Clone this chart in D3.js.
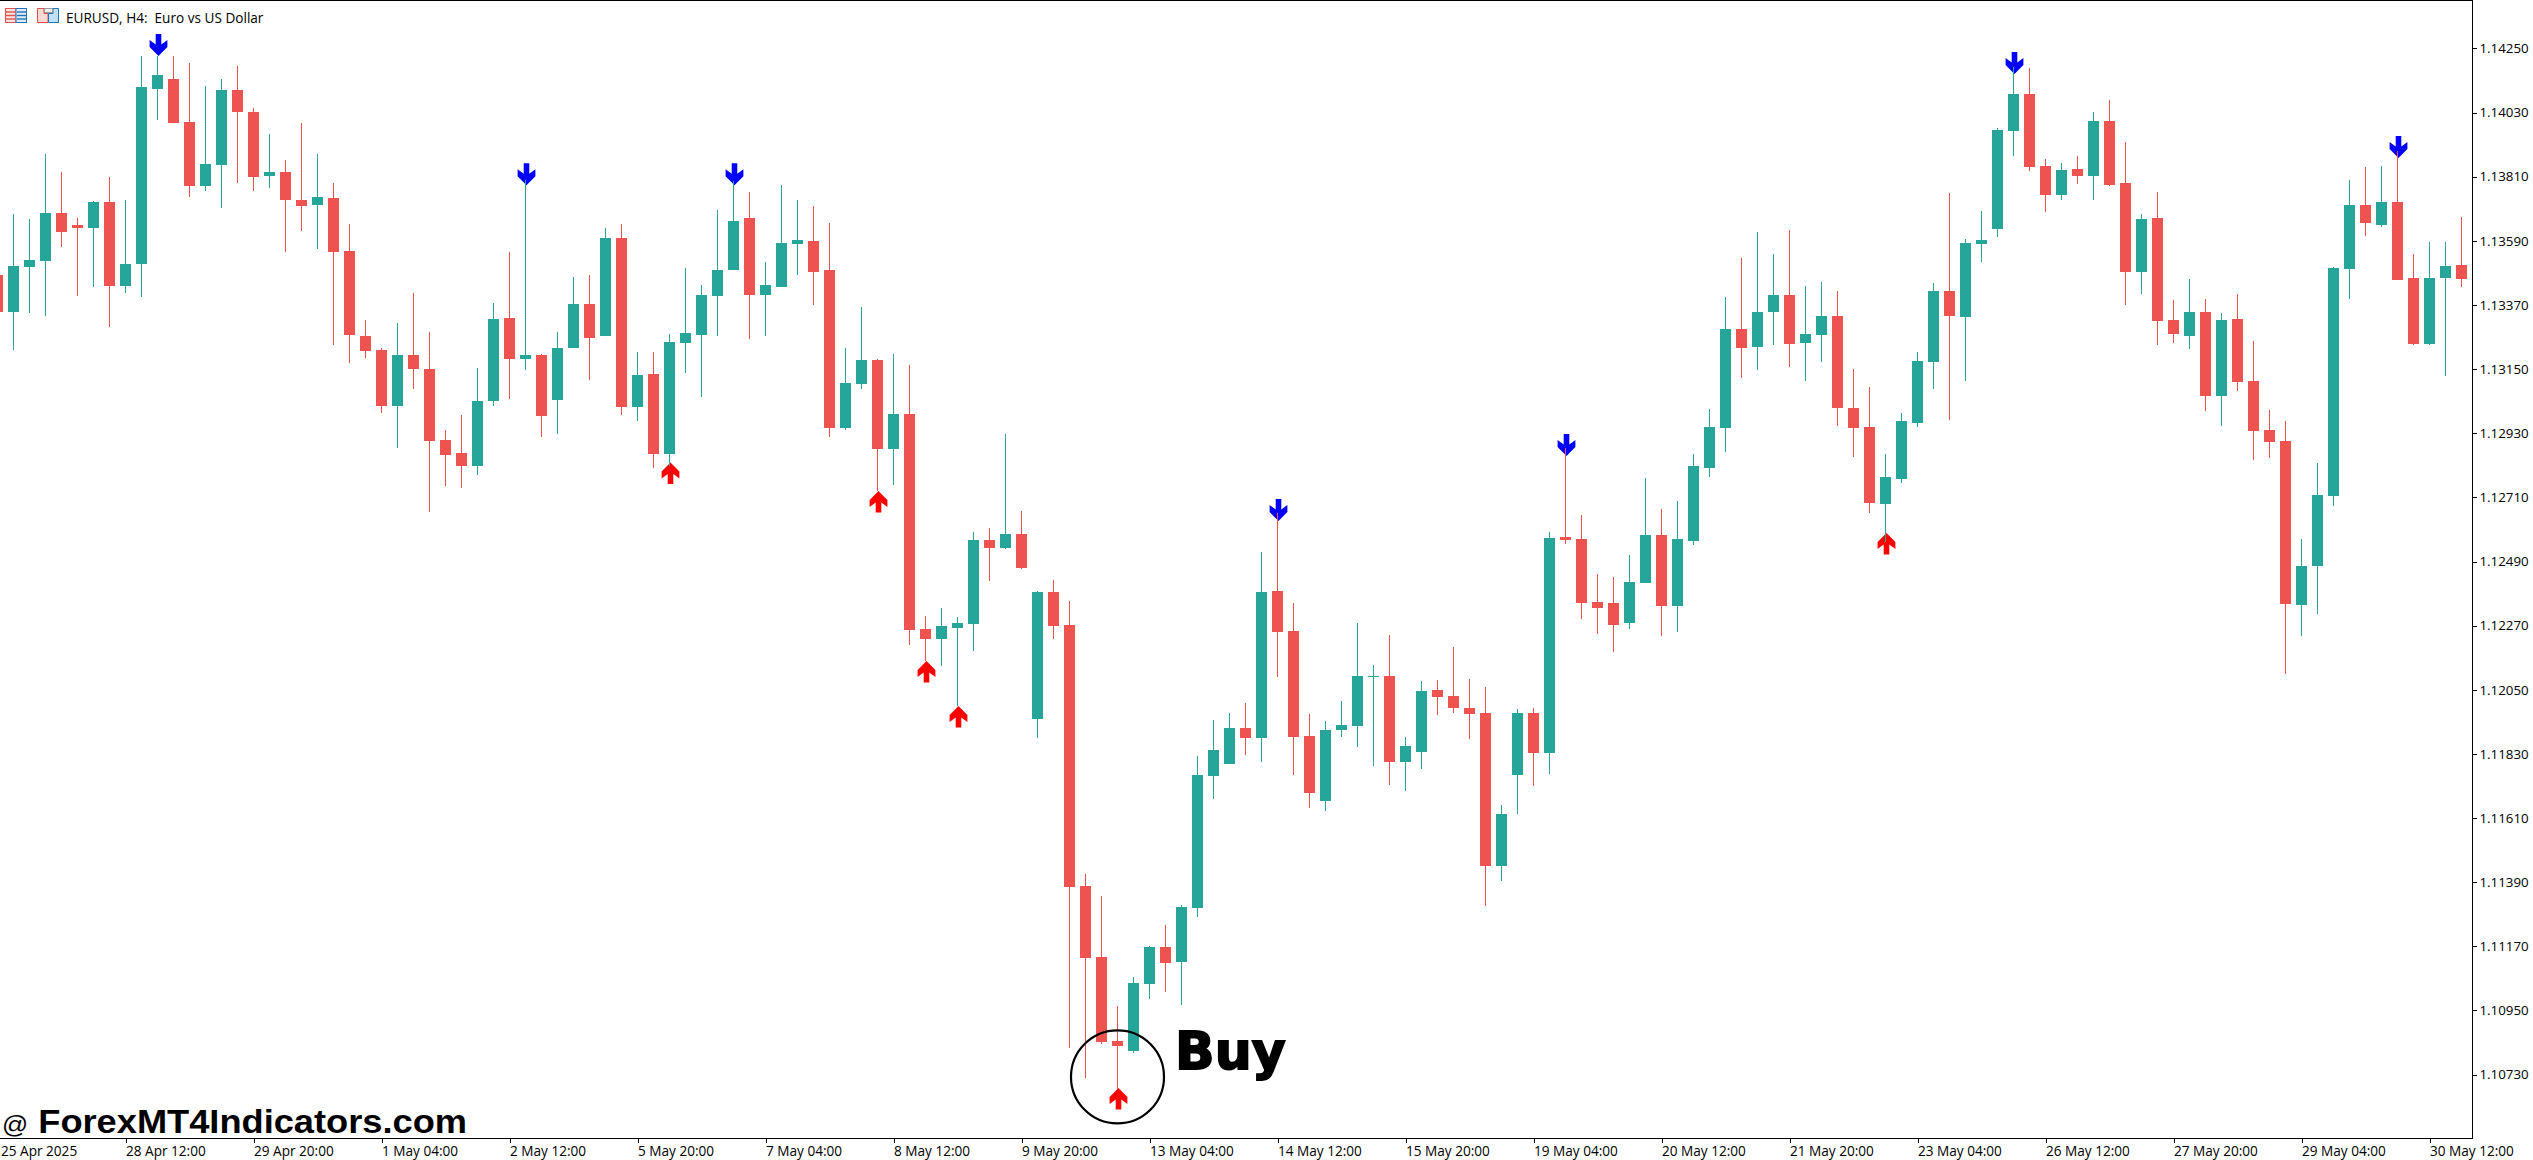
<!DOCTYPE html>
<html><head><meta charset="utf-8">
<style>html,body{margin:0;padding:0;background:#fff;overflow:hidden}svg{display:block}</style>
<script src="https://cdn.jsdelivr.net/npm/d3@7/dist/d3.min.js"></script>
</head><body><svg id="c" width="2533" height="1160"></svg>
<script>
const opens=[1.13473,1.13346,1.13500,1.13521,1.13685,1.13644,1.13634,1.13723,1.13435,1.13510,1.14111,1.14145,1.13997,1.13778,1.13850,1.14107,1.14032,1.13812,1.13826,1.13730,1.13713,1.13737,1.13555,1.13264,1.13215,1.13023,1.13198,1.13150,1.12907,1.12862,1.12818,1.13041,1.13325,1.13185,1.13198,1.13044,1.13222,1.13373,1.13264,1.13600,1.13020,1.13133,1.12859,1.13239,1.13267,1.13401,1.13490,1.13668,1.13404,1.13432,1.13579,1.13589,1.13490,1.12948,1.13099,1.13181,1.12876,1.12996,1.12259,1.12224,1.12262,1.12276,1.12564,1.12536,1.12584,1.11950,1.12385,1.12272,1.11377,1.11133,1.10845,1.10811,1.11041,1.11168,1.11116,1.11302,1.11754,1.11795,1.11919,1.11885,1.12389,1.12252,1.11891,1.11669,1.11912,1.11926,1.12094,1.12097,1.11802,1.11837,1.12049,1.12029,1.11988,1.11970,1.11446,1.11758,1.11970,1.11833,1.12574,1.12567,1.12351,1.12348,1.12279,1.12416,1.12581,1.12337,1.12560,1.12811,1.12948,1.13288,1.13226,1.13346,1.13404,1.13239,1.13267,1.13332,1.13017,1.12951,1.12687,1.12773,1.12965,1.13174,1.13418,1.13329,1.13579,1.13630,1.13967,1.14094,1.13847,1.13747,1.13836,1.13812,1.14001,1.13788,1.13483,1.13668,1.13318,1.13264,1.13346,1.13058,1.13322,1.13109,1.12941,1.12903,1.12341,1.12475,1.12715,1.13493,1.13713,1.13644,1.13723,1.13462,1.13236,1.13462,1.13507];
const highs=[1.13490,1.13682,1.13665,1.13888,1.13826,1.13668,1.13727,1.13809,1.13730,1.14224,1.14224,1.14224,1.14200,1.14121,1.14145,1.14190,1.14046,1.13956,1.13867,1.13994,1.13888,1.13788,1.13648,1.13318,1.13222,1.13308,1.13411,1.13277,1.12941,1.12992,1.13154,1.13377,1.13552,1.13799,1.13202,1.13277,1.13466,1.13473,1.13634,1.13648,1.13209,1.13209,1.13270,1.13497,1.13438,1.13696,1.13795,1.13757,1.13517,1.13781,1.13730,1.13709,1.13651,1.13222,1.13363,1.13185,1.13202,1.13164,1.12303,1.12331,1.12300,1.12591,1.12605,1.12927,1.12663,1.12389,1.12427,1.12355,1.11418,1.11343,1.10965,1.11065,1.11171,1.11243,1.11312,1.11823,1.11946,1.11970,1.12005,1.12523,1.12656,1.12348,1.11967,1.11943,1.12012,1.12279,1.12135,1.12238,1.11888,1.12080,1.12084,1.12197,1.12087,1.12060,1.11655,1.11984,1.11988,1.12591,1.12879,1.12650,1.12447,1.12437,1.12512,1.12776,1.12670,1.12698,1.12859,1.13013,1.13397,1.13531,1.13620,1.13545,1.13627,1.13435,1.13449,1.13418,1.13150,1.13089,1.12859,1.12999,1.13209,1.13445,1.13754,1.13596,1.13692,1.13977,1.14186,1.14183,1.13871,1.13857,1.13881,1.14032,1.14073,1.13929,1.13682,1.13757,1.13387,1.13459,1.13390,1.13342,1.13408,1.13246,1.13010,1.12972,1.12567,1.12828,1.13500,1.13799,1.13843,1.13847,1.13898,1.13545,1.13586,1.13586,1.13672];
const lows=[1.13318,1.13215,1.13342,1.13332,1.13569,1.13401,1.13432,1.13294,1.13411,1.13397,1.14004,1.13994,1.13740,1.13761,1.13703,1.13788,1.13761,1.13771,1.13552,1.13624,1.13562,1.13233,1.13171,1.13188,1.12999,1.12879,1.13082,1.12660,1.12749,1.12742,1.12787,1.13023,1.13047,1.13147,1.12917,1.12927,1.13222,1.13113,1.13264,1.12992,1.12972,1.12811,1.12818,1.13137,1.13054,1.13264,1.13490,1.13253,1.13264,1.13432,1.13473,1.13370,1.12917,1.12941,1.13082,1.12732,1.12752,1.12204,1.12149,1.12132,1.11994,1.12183,1.12423,1.12533,1.12464,1.11885,1.12224,1.10821,1.10718,1.10835,1.10681,1.10804,1.10989,1.11013,1.10969,1.11271,1.11675,1.11795,1.11826,1.11802,1.12094,1.11758,1.11645,1.11634,1.11888,1.11854,1.11789,1.11723,1.11703,1.11778,1.11963,1.11970,1.11881,1.11308,1.11394,1.11624,1.11720,1.11761,1.12550,1.12293,1.12241,1.12180,1.12258,1.12416,1.12235,1.12248,1.12547,1.12780,1.12866,1.13120,1.13147,1.13233,1.13157,1.13109,1.13174,1.12955,1.12848,1.12656,1.12558,1.12759,1.12951,1.13082,1.12975,1.13109,1.13517,1.13603,1.13881,1.13829,1.13689,1.13730,1.13785,1.13730,1.13778,1.13370,1.13408,1.13233,1.13239,1.13219,1.13006,1.12955,1.13075,1.12838,1.12845,1.12104,1.12235,1.12310,1.12680,1.13390,1.13606,1.13637,1.13456,1.13233,1.13233,1.13126,1.13432];
const closes=[1.13346,1.13504,1.13524,1.13685,1.13620,1.13634,1.13723,1.13435,1.13510,1.14118,1.14159,1.13994,1.13778,1.13853,1.14107,1.14032,1.13809,1.13826,1.13730,1.13709,1.13740,1.13552,1.13267,1.13212,1.13023,1.13198,1.13150,1.12903,1.12855,1.12818,1.13041,1.13322,1.13185,1.13198,1.12989,1.13222,1.13373,1.13257,1.13600,1.13020,1.13130,1.12859,1.13243,1.13274,1.13404,1.13490,1.13658,1.13404,1.13438,1.13582,1.13593,1.13483,1.12948,1.13102,1.13181,1.12876,1.12996,1.12255,1.12224,1.12269,1.12279,1.12564,1.12536,1.12584,1.12468,1.12385,1.12269,1.11374,1.11130,1.10842,1.10828,1.11044,1.11168,1.11113,1.11305,1.11758,1.11843,1.11919,1.11885,1.12385,1.12248,1.11888,1.11696,1.11912,1.11929,1.12097,1.12097,1.11802,1.11857,1.12046,1.12025,1.11988,1.11967,1.11446,1.11624,1.11970,1.11833,1.12571,1.12564,1.12348,1.12331,1.12272,1.12420,1.12581,1.12337,1.12567,1.12818,1.12951,1.13288,1.13222,1.13346,1.13404,1.13236,1.13270,1.13332,1.13017,1.12948,1.12691,1.12780,1.12972,1.13178,1.13418,1.13332,1.13582,1.13593,1.13970,1.14094,1.13843,1.13747,1.13833,1.13812,1.14001,1.13781,1.13483,1.13665,1.13315,1.13270,1.13346,1.13058,1.13318,1.13106,1.12938,1.12900,1.12344,1.12475,1.12718,1.13497,1.13713,1.13651,1.13723,1.13456,1.13236,1.13462,1.13504,1.13459];

const priceTicks=[1.14250,1.14030,1.13810,1.13590,1.13370,1.13150,1.12930,1.12710,1.12490,1.12270,1.12050,1.11830,1.11610,1.11390,1.11170,1.10950,1.10730];
const timeLabels=["25 Apr 2025","28 Apr 12:00","29 Apr 20:00","1 May 04:00","2 May 12:00","5 May 20:00","7 May 04:00","8 May 12:00","9 May 20:00","13 May 04:00","14 May 12:00","15 May 20:00","19 May 04:00","20 May 12:00","21 May 20:00","23 May 04:00","26 May 12:00","27 May 20:00","29 May 04:00","30 May 12:00"];
const timeLabelBars=[0,8,16,24,32,40,48,56,64,72,80,88,96,104,112,120,128,136,144,152];

const sellBars=[10,33,46,80,98,126,150];
const sellPrices=[1.14224,1.13781,1.13781,1.12629,1.12852,1.14162,1.13874];
const buyBars=[42,55,58,60,70,118];
const buyPrices=[1.12830,1.12732,1.12149,1.11994,1.10684,1.12588];

const buyMarkBar=70, buyMarkPrice=1.10722;
const titleText="EURUSD, H4:  Euro vs US Dollar";

const UP="#26a69a", DOWN="#ef5350";
const W=2533,H=1160,plotR=2472,plotB=1138;
const svg=d3.select("#c");
const x=d3.scaleLinear().domain([0,154]).range([-2.5,2461.5]);
const y=d3.scaleLinear().domain([1.14250,1.10730]).range([48.4,1074.6]);
const Y=v=>Math.round(y(v));

svg.append("rect").attr("width",W).attr("height",H).attr("fill","#fff");

// signal arrows (below candles)
const downPath="M-2.8,-22L2.8,-22L2.8,-11.5L8.9,-16L8.9,-9L0,0L-8.9,-9L-8.9,-16L-2.8,-11.5Z";
const upPath="M-2.8,21.5L2.8,21.5L2.8,11.5L8.9,16L8.9,9L0,0L-8.9,9L-8.9,16L-2.8,11.5Z";
svg.append("g").selectAll("path").data(sellBars).join("path")
  .attr("d",downPath).attr("fill","#0000ff")
  .attr("transform",(d,i)=>`translate(${x(d)+1},${y(sellPrices[i])})`);
svg.append("g").selectAll("path").data(buyBars).join("path")
  .attr("d",upPath).attr("fill","#ff0000")
  .attr("transform",(d,i)=>`translate(${x(d)+1},${y(buyPrices[i])})`);

// candles
const idx=d3.range(opens.length);
const color=i=>closes[i]>=opens[i]?UP:DOWN;
const plot=svg.append("g").attr("shape-rendering","crispEdges");
plot.append("g").selectAll("rect").data(idx).join("rect")
  .attr("x",i=>Math.floor(x(i))).attr("width",1)
  .attr("y",i=>Y(highs[i])).attr("height",i=>Math.max(0,Y(lows[i])-Y(highs[i])))
  .attr("fill",color);
plot.append("g").selectAll("rect").data(idx).join("rect")
  .attr("x",i=>Math.floor(x(i))-5).attr("width",11)
  .attr("y",i=>Y(Math.max(opens[i],closes[i])))
  .attr("height",i=>Math.max(1,Y(Math.min(opens[i],closes[i]))-Y(Math.max(opens[i],closes[i]))))
  .attr("fill",color);

// frame
const frame=svg.append("g").attr("shape-rendering","crispEdges").attr("fill","#000");
frame.append("rect").attr("x",0).attr("y",0).attr("width",plotR).attr("height",1);
frame.append("rect").attr("x",plotR).attr("y",0).attr("width",1).attr("height",plotB+1);
frame.append("rect").attr("x",0).attr("y",plotB).attr("width",plotR+1).attr("height",1);

const FONT="'Open Sans','DejaVu Sans',sans-serif";
// price axis
const ay=svg.append("g").attr("transform",`translate(${plotR+0.5},0)`)
  .call(d3.axisRight(y).tickValues(priceTicks).tickFormat(d3.format(".5f")).tickSize(4).tickPadding(3).tickSizeOuter(0));
ay.select(".domain").remove();
ay.selectAll("text").attr("font-family",FONT).attr("font-size",13.3).attr("fill","#000").attr("x",7);
ay.selectAll("line").attr("stroke","#000").attr("shape-rendering","crispEdges");
// time axis
const at=svg.append("g").attr("transform",`translate(0,${plotB+0.5})`)
  .call(d3.axisBottom(x).tickValues(timeLabelBars).tickFormat((d,i)=>timeLabels[i]).tickSize(4).tickSizeOuter(0));
at.select(".domain").remove();
at.selectAll("text").attr("font-family",FONT).attr("font-size",13.6).attr("fill","#000")
  .attr("text-anchor","start").attr("dy",0).attr("y",17.5)
  .attr("x",(d,i)=>i===0?3:0);
at.selectAll("line").attr("stroke","#000").attr("shape-rendering","crispEdges");

// title & icons
const icon=svg.append("g");
icon.append("rect").attr("x",5.5).attr("y",8.5).attr("width",10.5).attr("height",14).attr("fill","#fbe3e0").attr("stroke","#e2524c");
icon.append("rect").attr("x",16).attr("y",8.5).attr("width",10.5).attr("height",14).attr("fill","#dcebf7").attr("stroke","#1f74b8");
[12,15.5,19].forEach(v=>{
  icon.append("line").attr("x1",6).attr("x2",15.5).attr("y1",v).attr("y2",v).attr("stroke","#e2524c").attr("stroke-width",1.4);
  icon.append("line").attr("x1",17).attr("x2",26).attr("y1",v).attr("y2",v).attr("stroke","#1f74b8").attr("stroke-width",1.4);
});
icon.append("path").attr("d","M37.5,8.5H44V13.5H48V22.5H37.5Z").attr("fill","#fbd9d3").attr("stroke","#e2524c");
icon.append("path").attr("d","M48.5,22.5V13.5H53V8.5H58.5V22.5Z").attr("fill","#bfe0f7").attr("stroke","#1f74b8");
icon.append("rect").attr("x",44.5).attr("y",8.5).attr("width",8).attr("height",4).attr("fill","#eee").attr("stroke","#999");

svg.append("text").text(titleText).attr("x",66).attr("y",23).style("white-space","pre")
  .attr("font-family",FONT).attr("font-size",13.6).attr("fill","#000");

// buy annotation
svg.append("circle").attr("cx",x(buyMarkBar)).attr("cy",y(buyMarkPrice)).attr("r",46.5)
  .attr("fill","none").attr("stroke","#000").attr("stroke-width",2.2);
svg.append("text").text("Buy").attr("x",1175).attr("y",1069)
  .attr("font-family","'DejaVu Sans',sans-serif").attr("font-weight",700).attr("font-size",52).attr("fill","#000")
  .attr("stroke","#000").attr("stroke-width",1.8);

// watermark: narrow "@" followed by the wide bold site name
const wm=svg.append("text").attr("x",2).attr("y",1133)
  .attr("font-family","'Liberation Sans',sans-serif").attr("font-weight",700).attr("font-size",33)
  .attr("textLength",465).attr("lengthAdjust","spacingAndGlyphs").attr("fill","#000");
wm.append("tspan").attr("font-size",23.5).attr("font-weight",400).text("@");
wm.append("tspan").text(" ForexMT4Indicators.com");
</script></body></html>
